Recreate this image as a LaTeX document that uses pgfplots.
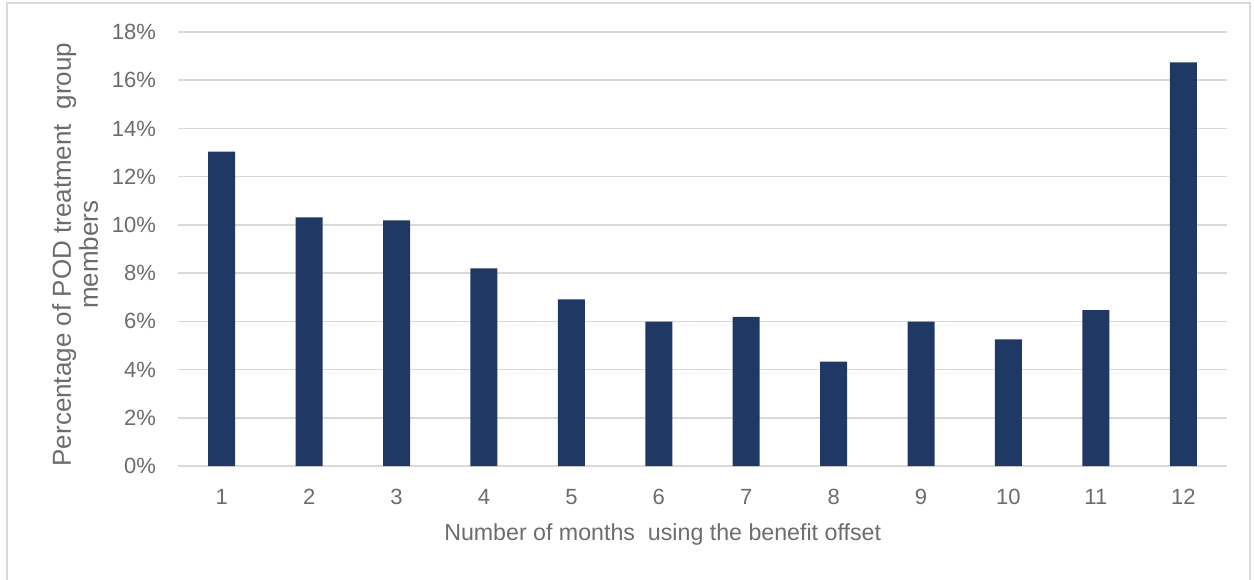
\documentclass[border=0pt]{standalone}
\usepackage{pgfplots}
\pgfplotsset{compat=1.18}
\usepackage{fontspec}
\setmainfont{Liberation Sans}
\definecolor{barblue}{RGB}{32,56,100}
\definecolor{txtgrey}{RGB}{108,108,108}
\definecolor{gridgrey}{RGB}{217,217,217}
\begin{document}
\begin{tikzpicture}
\useasboundingbox (-89pt,-56.5pt) rectangle (538pt,233pt);
\draw[gridgrey, line width=0.8pt] (-85.5pt,-80pt) -- (-85.5pt,231.5pt) -- (536pt,231.5pt) -- (536pt,-80pt);
\begin{axis}[
  scale only axis,
  width=524.5pt, height=217pt,
  xmin=0.5, xmax=12.5, ymin=0, ymax=18,
  xtick={1,...,12}, ytick={0,2,...,18},
  yticklabel={\pgfmathprintnumber{\tick}\%},
  /pgf/number format/assume math mode=true,
  major tick length=0pt,
  axis line style={draw=none},
  ymajorgrids, grid style={gridgrey, line width=0.8pt},
  tick label style={font=\fontsize{11pt}{13pt}\selectfont, text=txtgrey},
  yticklabel style={xshift=-7.5pt},
  xticklabel style={yshift=-8pt},
  label style={font=\fontsize{11.6pt}{13.8pt}\selectfont, text=txtgrey},
  xlabel={Number of months\ \ using the benefit offset},
  xlabel style={at={(axis description cs:0.462,0)}, anchor=center, yshift=-34pt},
  ylabel={Percentage of POD treatment\ \ group\\members},
  ylabel style={at={(axis description cs:0,0.487)}, anchor=center, yshift=51.5pt, align=center, font=\fontsize{13pt}{13.5pt}\selectfont},
  clip=false,
]
\addplot[ybar, bar width=13.5pt, fill=barblue, draw=none] coordinates {
(1,13.04) (2,10.31) (3,10.19) (4,8.20) (5,6.91) (6,5.99)
(7,6.19) (8,4.33) (9,5.99) (10,5.25) (11,6.46) (12,16.74)
};
\end{axis}
\end{tikzpicture}
\end{document}
